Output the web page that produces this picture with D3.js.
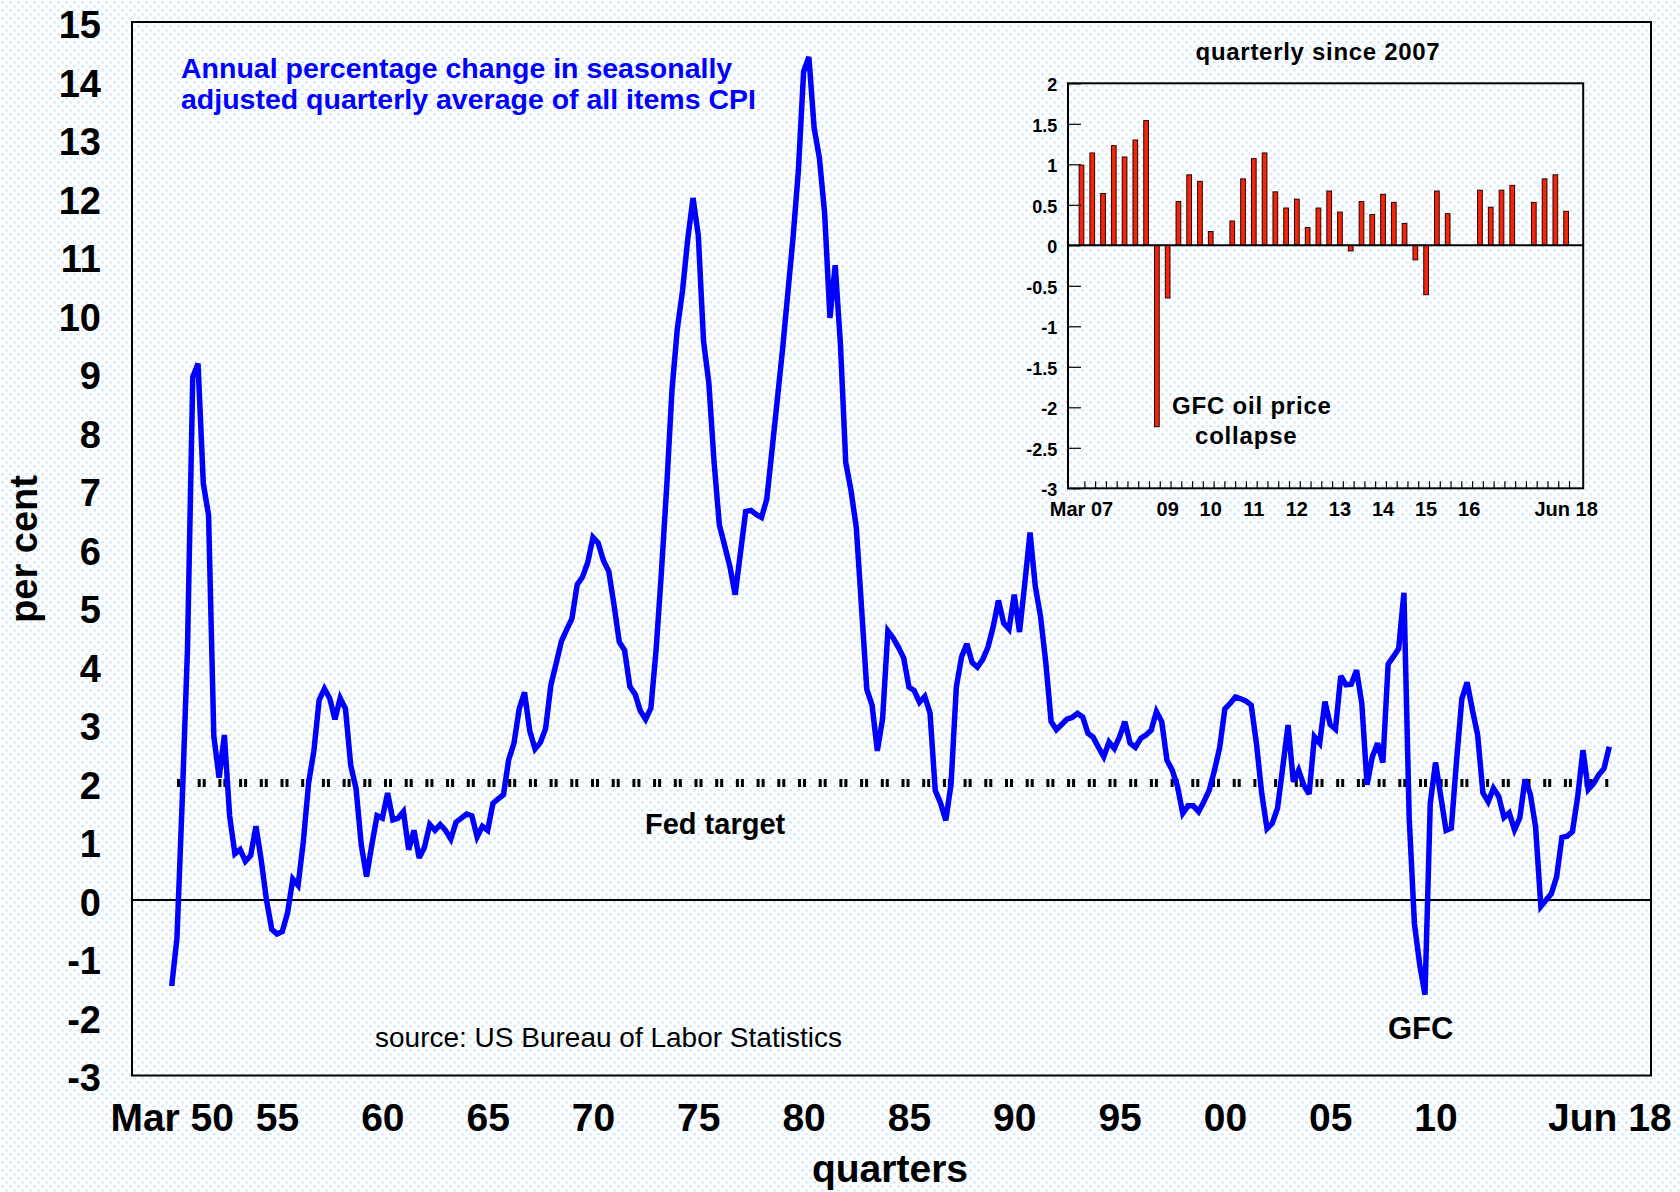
<!DOCTYPE html>
<html>
<head>
<meta charset="utf-8">
<script src="https://cdn.jsdelivr.net/npm/d3@7"></script>
<style>
  html, body { margin: 0; padding: 0; background: #fff; }
  svg { display: block; }
  text { font-family: "Liberation Sans", Arial, sans-serif; fill: #000; }
</style>
</head>
<body>
<div id="chart-area"></div>
<script>
/*
*    US CPI, annual percentage change, quarterly since 1950
*    with an inset of quarterly changes since 2007
*/

// Main series: annual % change, one value per quarter, Mar 50 .. Jun 18
const startYear = 1950;
const cpiAnnual = [
    -1.47, -0.65, 1.7, 4.3,      // 1950
    8.94, 9.17, 7.12, 6.58,      // 1951
    2.8, 2.09, 2.82, 1.44,       // 1952
    0.79, 0.86, 0.66, 0.76,      // 1953
    1.26, 0.68, 0.0, -0.5,       // 1954
    -0.58, -0.54, -0.22, 0.36,   // 1955
    0.25, 1.0, 2.0, 2.55,        // 1956
    3.42, 3.61, 3.45, 3.09,      // 1957
    3.45, 3.27, 2.3, 1.91,       // 1958
    0.94, 0.4, 0.94, 1.44,       // 1959
    1.4, 1.83, 1.37, 1.4,        // 1960
    1.51, 0.86, 1.19, 0.72,      // 1961
    0.9, 1.29, 1.19, 1.29,       // 1962
    1.19, 1.04, 1.33, 1.4,       // 1963
    1.47, 1.44, 1.08, 1.26,      // 1964
    1.19, 1.65, 1.73, 1.8,       // 1965
    2.4, 2.68, 3.27, 3.55,       // 1966
    2.89, 2.58, 2.69, 2.93,      // 1967
    3.67, 4.04, 4.42, 4.62,      // 1968
    4.81, 5.39, 5.52, 5.77,      // 1969
    6.2, 6.1, 5.8, 5.62,         // 1970
    5.04, 4.41, 4.27, 3.65,      // 1971
    3.52, 3.23, 3.09, 3.28,      // 1972
    4.29, 5.61, 7.06, 8.71,      // 1973
    9.75, 10.41, 11.3, 12.0,     // 1974
    11.36, 9.55, 8.84, 7.48,     // 1975
    6.41, 6.06, 5.7, 5.22,       // 1976
    5.93, 6.64, 6.66, 6.59,      // 1977
    6.54, 6.85, 7.69, 8.55,      // 1978
    9.41, 10.37, 11.33, 12.46,   // 1979
    14.16, 14.41, 13.2, 12.68,   // 1980
    11.73, 9.95, 10.85, 9.49,    // 1981
    7.48, 7.0, 6.37, 5.0,        // 1982
    3.6, 3.33, 2.55, 3.1,        // 1983
    4.6, 4.48, 4.32, 4.14,       // 1984
    3.64, 3.58, 3.38, 3.48,      // 1985
    3.2, 1.87, 1.66, 1.36,       // 1986
    1.98, 3.64, 4.16, 4.38,      // 1987
    4.06, 3.98, 4.11, 4.32,      // 1988
    4.67, 5.12, 4.73, 4.63,      // 1989
    5.22, 4.58, 5.41, 6.28,      // 1990
    5.36, 4.84, 4.05, 3.05,      // 1991
    2.91, 3.0, 3.09, 3.12,       // 1992
    3.19, 3.13, 2.85, 2.78,      // 1993
    2.61, 2.45, 2.7, 2.59,       // 1994
    2.79, 3.05, 2.68, 2.61,      // 1995
    2.76, 2.82, 2.9, 3.22,       // 1996
    3.05, 2.39, 2.22, 1.94,      // 1997
    1.48, 1.61, 1.61, 1.51,      // 1998
    1.68, 1.87, 2.21, 2.6,       // 1999
    3.27, 3.36, 3.47, 3.44,      // 2000
    3.4, 3.33, 2.67, 1.82,       // 2001
    1.22, 1.31, 1.57, 2.28,      // 2002
    2.99, 2.02, 2.22, 1.96,      // 2003
    1.81, 2.79, 2.68, 3.39,      // 2004
    3.0, 2.92, 3.83, 3.68,       // 2005
    3.69, 3.93, 3.36, 1.97,      // 2006
    2.45, 2.68, 2.35, 4.03,      // 2007
    4.16, 4.3, 5.25, 1.4,        // 2008
    -0.41, -1.11, -1.62, 1.65,   // 2009
    2.35, 1.77, 1.19, 1.23,      // 2010
    2.39, 3.44, 3.72, 3.25,      // 2011
    2.82, 1.83, 1.68, 1.91,      // 2012
    1.77, 1.41, 1.49, 1.2,       // 2013
    1.4, 2.06, 1.81, 1.25,       // 2014
    -0.11, 0.0, 0.11, 0.4,       // 2015
    1.07, 1.09, 1.17, 1.77,      // 2016
    2.56, 1.89, 1.99, 2.14,      // 2017
    2.25, 2.62                   // 2018
];

// Main axes
const yTicks = d3.range(-3, 16);
const xTickYears = [1950, 1955, 1960, 1965, 1970, 1975, 1980, 1985, 1990, 1995, 2000, 2005, 2010, 2018.25];
const xTickLabels = ['Mar 50', '55', '60', '65', '70', '75', '80', '85', '90', '95', '00', '05', '10', 'Jun 18'];
const fedTarget = 2;

// Inset: quarterly % change since Mar 07 (null = no bar shown)
const insetStartYear = 2007;
const qtrChange = [
    0.99, 1.14, 0.64, 1.23,      // 2007
    1.09, 1.3, 1.54, -2.24,      // 2008
    -0.65, 0.54, 0.87, 0.79,     // 2009
    0.17, null, 0.3, 0.82,       // 2010
    1.07, 1.14, 0.66, 0.46,      // 2011
    0.57, 0.22, 0.46, 0.67,      // 2012
    0.41, -0.07, 0.54, 0.38,     // 2013
    0.63, 0.53, 0.27, -0.18,     // 2014
    -0.61, 0.67, 0.39, null,     // 2015
    null, 0.68, 0.47, 0.68,      // 2016
    0.74, null, 0.53, 0.82,      // 2017
    0.87, 0.42                   // 2018
];
const insetYTicks = d3.range(-3, 2.01, 0.5);
const insetLabelYears = [2007, 2009, 2010, 2011, 2012, 2013, 2014, 2015, 2016, 2018.25];
const insetLabels = ['Mar 07', '09', '10', '11', '12', '13', '14', '15', '16', 'Jun 18'];

// Canvas
const width = 1680;
const height = 1192;
const frame = { left: 132, top: 22, right: 1651, bottom: 1075.5 };
const inset = { left: 1068, top: 83.3, right: 1583.2, bottom: 488.3 };

const svg = d3.select('#chart-area')
    .append('svg')
    .attr('width', width)
    .attr('height', height);

// Dotted light blue background
const pattern = svg.append('defs')
    .append('pattern')
    .attr('id', 'dots')
    .attr('width', 8)
    .attr('height', 8)
    .attr('patternUnits', 'userSpaceOnUse');
pattern.append('rect').attr('x', 1).attr('y', 1).attr('width', 3).attr('height', 2.5).attr('fill', '#d8ebfc');
pattern.append('rect').attr('x', 5).attr('y', 5).attr('width', 3).attr('height', 2.5).attr('fill', '#d8ebfc');

svg.append('rect')
    .attr('width', width)
    .attr('height', height)
    .attr('fill', 'url(#dots)');

// Scales
const x = d3.scaleLinear()
    .domain([startYear, 2018.25])
    .range([171.7, 1609.3]);

const y = d3.scaleLinear()
    .domain([-3, 15])
    .range([frame.bottom, frame.top + 0.5]);

// Zero line
svg.append('line')
    .attr('x1', frame.left)
    .attr('x2', frame.right)
    .attr('y1', y(0))
    .attr('y2', y(0))
    .attr('stroke', '#000')
    .attr('stroke-width', 2);

// Fed target (dashed)
svg.append('line')
    .attr('x1', x(startYear))
    .attr('x2', x(2018.25))
    .attr('y1', y(fedTarget))
    .attr('y2', y(fedTarget))
    .attr('stroke', '#000')
    .attr('stroke-width', 8)
    .attr('stroke-dasharray', '3,2,3,12.7')
    .attr('stroke-dashoffset', 15.4);

// CPI line
const line = d3.line()
    .x((d, i) => x(startYear + i / 4))
    .y((d) => y(d));

svg.append('path')
    .datum(cpiAnnual)
    .attr('d', line)
    .attr('fill', 'none')
    .attr('stroke', '#0000ff')
    .attr('stroke-width', 5.5)
    .attr('stroke-linejoin', 'miter')
    .attr('stroke-miterlimit', 3);

// Frame
svg.append('rect')
    .attr('x', frame.left)
    .attr('y', frame.top)
    .attr('width', frame.right - frame.left)
    .attr('height', frame.bottom - frame.top)
    .attr('fill', 'none')
    .attr('stroke', '#000')
    .attr('stroke-width', 2);

// Y Axis
const yAxisCall = d3.axisLeft(y)
    .tickValues(yTicks)
    .tickSize(0)
    .tickPadding(31)
    .tickFormat((d) => d);
const yAxis = svg.append('g')
    .attr('transform', 'translate(' + frame.left + ', 3)')
    .call(yAxisCall);
yAxis.select('.domain').remove();
yAxis.selectAll('text')
    .style('font-family', '"Liberation Sans", Arial, sans-serif')
    .style('font-size', '38px')
    .style('font-weight', 'bold')
    .attr('fill', '#000');

// X Axis
const xAxisCall = d3.axisBottom(x)
    .tickValues(xTickYears)
    .tickSize(0)
    .tickPadding(28)
    .tickFormat((d, i) => xTickLabels[i]);
const xAxis = svg.append('g')
    .attr('transform', 'translate(0, ' + frame.bottom + ')')
    .call(xAxisCall);
xAxis.select('.domain').remove();
xAxis.selectAll('text')
    .style('font-family', '"Liberation Sans", Arial, sans-serif')
    .style('font-size', '39px')
    .style('font-weight', 'bold')
    .attr('fill', '#000');

// Axis titles
svg.append('text')
    .attr('transform', 'translate(37, 549) rotate(-90)')
    .attr('text-anchor', 'middle')
    .style('font-size', '38px')
    .style('font-weight', 'bold')
    .text('per cent');

svg.append('text')
    .attr('x', 890)
    .attr('y', 1182)
    .attr('text-anchor', 'middle')
    .style('font-size', '39px')
    .style('font-weight', 'bold')
    .text('quarters');

// Annotations
const title = svg.append('text')
    .attr('x', 181)
    .attr('y', 78)
    .style('font-size', '28.5px')
    .style('font-weight', 'bold')
    .style('fill', '#0000ff');
title.append('tspan').attr('x', 181).text('Annual percentage change in seasonally');
title.append('tspan').attr('x', 181).attr('dy', 31).text('adjusted quarterly average of all items CPI');

svg.append('text')
    .attr('x', 645)
    .attr('y', 834)
    .style('font-size', '29px')
    .style('font-weight', 'bold')
    .text('Fed target');

svg.append('text')
    .attr('x', 375)
    .attr('y', 1047)
    .style('font-size', '28px')
    .text('source: US Bureau of Labor Statistics');

svg.append('text')
    .attr('x', 1388)
    .attr('y', 1039)
    .style('font-size', '31px')
    .style('font-weight', 'bold')
    .text('GFC');

// ---------------- Inset ----------------
const g = svg.append('g');

const xIn = d3.scaleBand()
    .domain(d3.range(qtrChange.length))
    .range([1076.1, 1571.5])
    .padding(0);

const yIn = d3.scaleLinear()
    .domain([-3, 2])
    .range([inset.bottom, inset.top]);

// Bars
const barW = 4.7;
g.selectAll('rect.bar')
    .data(qtrChange.map((v, i) => ({ i: i, v: v })).filter((d) => d.v !== null))
    .enter()
    .append('rect')
    .attr('class', 'bar')
    .attr('x', (d) => xIn(d.i) + xIn.bandwidth() / 2 - barW / 2)
    .attr('y', (d) => yIn(Math.max(0, d.v)))
    .attr('width', barW)
    .attr('height', (d) => Math.abs(yIn(d.v) - yIn(0)))
    .attr('fill', '#f4260a')
    .attr('stroke', '#2a0000')
    .attr('stroke-width', 1);

// Inset zero line
g.append('line')
    .attr('x1', inset.left)
    .attr('x2', inset.right)
    .attr('y1', yIn(0))
    .attr('y2', yIn(0))
    .attr('stroke', '#000')
    .attr('stroke-width', 2);

// Quarter tick marks along the bottom
g.selectAll('line.qtick')
    .data(d3.range(1, qtrChange.length + 1))
    .enter()
    .append('line')
    .attr('class', 'qtick')
    .attr('x1', (k) => xIn.range()[0] + k * xIn.step() - 2)
    .attr('x2', (k) => xIn.range()[0] + k * xIn.step() - 2)
    .attr('y1', inset.bottom)
    .attr('y2', inset.bottom - 7)
    .attr('stroke', '#000')
    .attr('stroke-width', 1.2);

// Inset frame
g.append('rect')
    .attr('x', inset.left)
    .attr('y', inset.top)
    .attr('width', inset.right - inset.left)
    .attr('height', inset.bottom - inset.top)
    .attr('fill', 'none')
    .attr('stroke', '#000')
    .attr('stroke-width', 2);

// Inset Y axis (ticks point inwards)
const yInAxisCall = d3.axisLeft(yIn)
    .tickValues(insetYTicks)
    .tickSize(-13)
    .tickPadding(10.7)
    .tickFormat((d) => d);
const yInAxis = g.append('g')
    .attr('transform', 'translate(' + inset.left + ', 0)')
    .call(yInAxisCall);
yInAxis.select('.domain').remove();
yInAxis.selectAll('line').attr('stroke', '#000').attr('stroke-width', 1.2);
yInAxis.selectAll('text')
    .attr('dy', '0.4em')
    .style('font-family', '"Liberation Sans", Arial, sans-serif')
    .style('font-size', '18px')
    .style('font-weight', 'bold')
    .attr('fill', '#000');

// Inset X axis labels
const xInAxisCall = d3.axisBottom(xIn)
    .tickValues(insetLabelYears.map((yr) => Math.round((yr - insetStartYear) * 4)))
    .tickSize(0)
    .tickPadding(14)
    .tickFormat((d, i) => insetLabels[i]);
const xInAxis = g.append('g')
    .attr('transform', 'translate(0, ' + inset.bottom + ')')
    .call(xInAxisCall);
xInAxis.select('.domain').remove();
xInAxis.selectAll('text')
    .style('font-family', '"Liberation Sans", Arial, sans-serif')
    .style('font-size', '20px')
    .style('font-weight', 'bold')
    .attr('fill', '#000');

// Inset title and note
g.append('text')
    .attr('x', 1318)
    .attr('y', 60)
    .attr('text-anchor', 'middle')
    .style('font-size', '24px')
    .style('font-weight', 'bold')
    .style('letter-spacing', '0.7px')
    .text('quarterly since 2007');

g.append('text')
    .attr('x', 1172)
    .attr('y', 414)
    .style('font-size', '24px')
    .style('font-weight', 'bold')
    .style('letter-spacing', '0.8px')
    .text('GFC oil price');

g.append('text')
    .attr('x', 1195)
    .attr('y', 444)
    .style('font-size', '24px')
    .style('font-weight', 'bold')
    .style('letter-spacing', '0.8px')
    .text('collapse');
</script>
</body>
</html>
